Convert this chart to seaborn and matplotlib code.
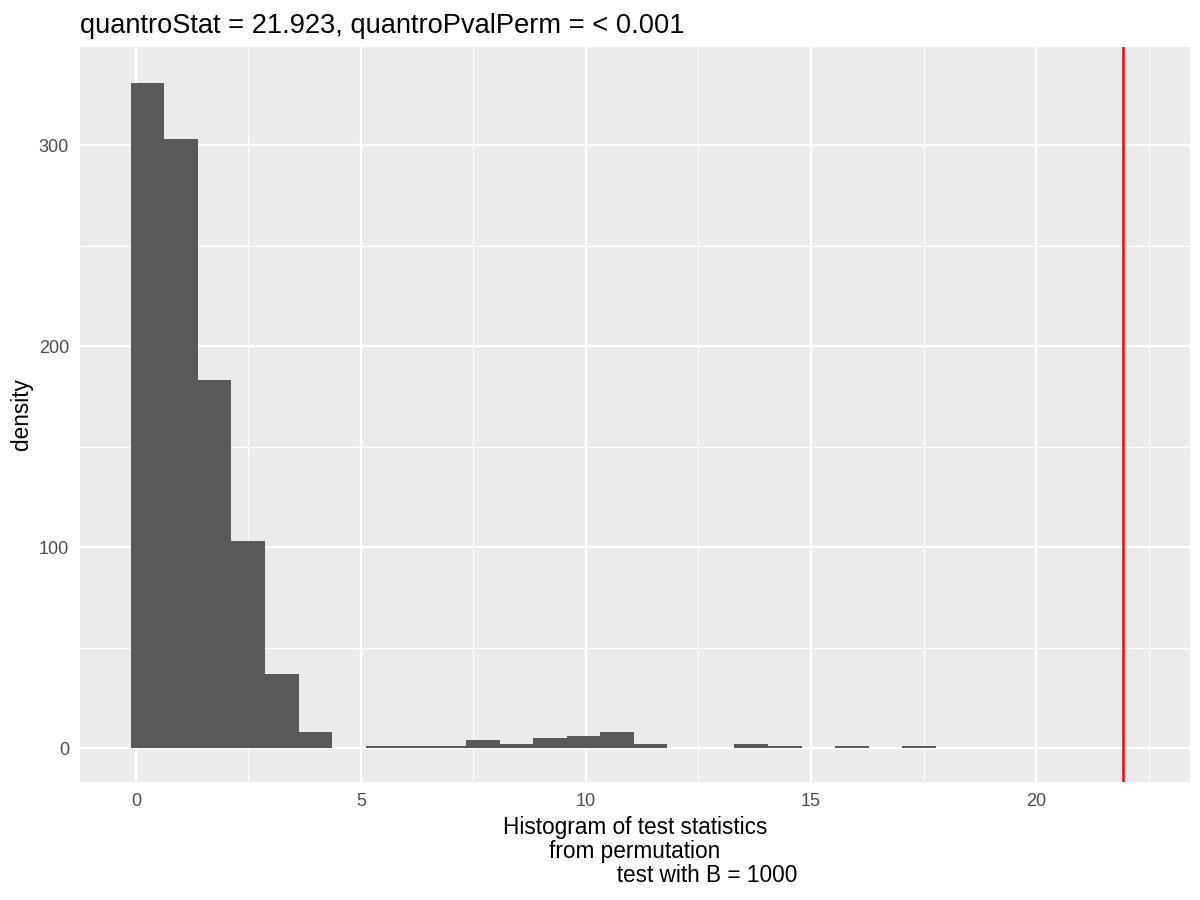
import numpy as np
import pandas as pd
import matplotlib
matplotlib.use("Agg")
import matplotlib.pyplot as plt
import seaborn as sns

# permutation test statistics, binned (counts)
bin_start = -0.11
bin_width = 0.745
counts = [331, 303, 183, 103, 37, 8, 0, 1, 1, 1, 4, 2,
          5, 6, 8, 2, 0, 0, 2, 1, 0, 1, 0, 1]
quantro_stat = 21.923
title = "quantroStat = 21.923, quantroPvalPerm = < 0.001"
x_label = ("Histogram of test statistics\nfrom permutation\n"
           + " " * 23 + "test with B = 1000")
y_label = "density"

edges = bin_start + bin_width * np.arange(len(counts) + 1)
df = pd.DataFrame({"stat": (edges[:-1] + edges[1:]) / 2, "n": counts})

sns.set_theme(style="darkgrid")
plt.rcParams["font.family"] = ["Liberation Sans", "DejaVu Sans"]

fig = plt.figure(figsize=(12, 9), dpi=100)
ax = fig.add_axes([80 / 1200, 1 - 782 / 900, 1110 / 1200, 735 / 900])
ax.set_facecolor("#EBEBEB")

sns.histplot(data=df, x="stat", weights="n", binwidth=bin_width,
             binrange=(edges[0], edges[-1]), color="#595959",
             edgecolor="none", alpha=1, linewidth=0, ax=ax)
ax.axvline(quantro_stat, color="red", lw=1.8)

ax.set_xlim(-1.24, 23.42)
ax.set_ylim(-16.9, 348.8)
ax.set_xticks([0, 5, 10, 15, 20])
ax.set_yticks([0, 100, 200, 300])
ax.set_xticks(np.arange(2.5, 23, 5), minor=True)
ax.set_yticks([50, 150, 250], minor=True)
ax.grid(which="major", color="white", lw=1.6)
ax.grid(which="minor", color="white", lw=0.8)
ax.set_axisbelow(True)
for s in ax.spines.values():
    s.set_visible(False)
ax.tick_params(axis="both", which="major", length=5, width=1.1,
               color="#333333", labelcolor="#4D4D4D", labelsize=13, pad=3)
ax.tick_params(axis="both", which="minor", length=0)

ax.set_xlabel(x_label, fontsize=16.3, color="black", labelpad=4,
              multialignment="center", linespacing=1.06)
ax.set_ylabel(y_label, fontsize=16.3, color="black", labelpad=4)
ax.set_title(title, loc="left", fontsize=19.6, color="black", pad=10)

fig.savefig("out.png", dpi=100)
plt.close(fig)
